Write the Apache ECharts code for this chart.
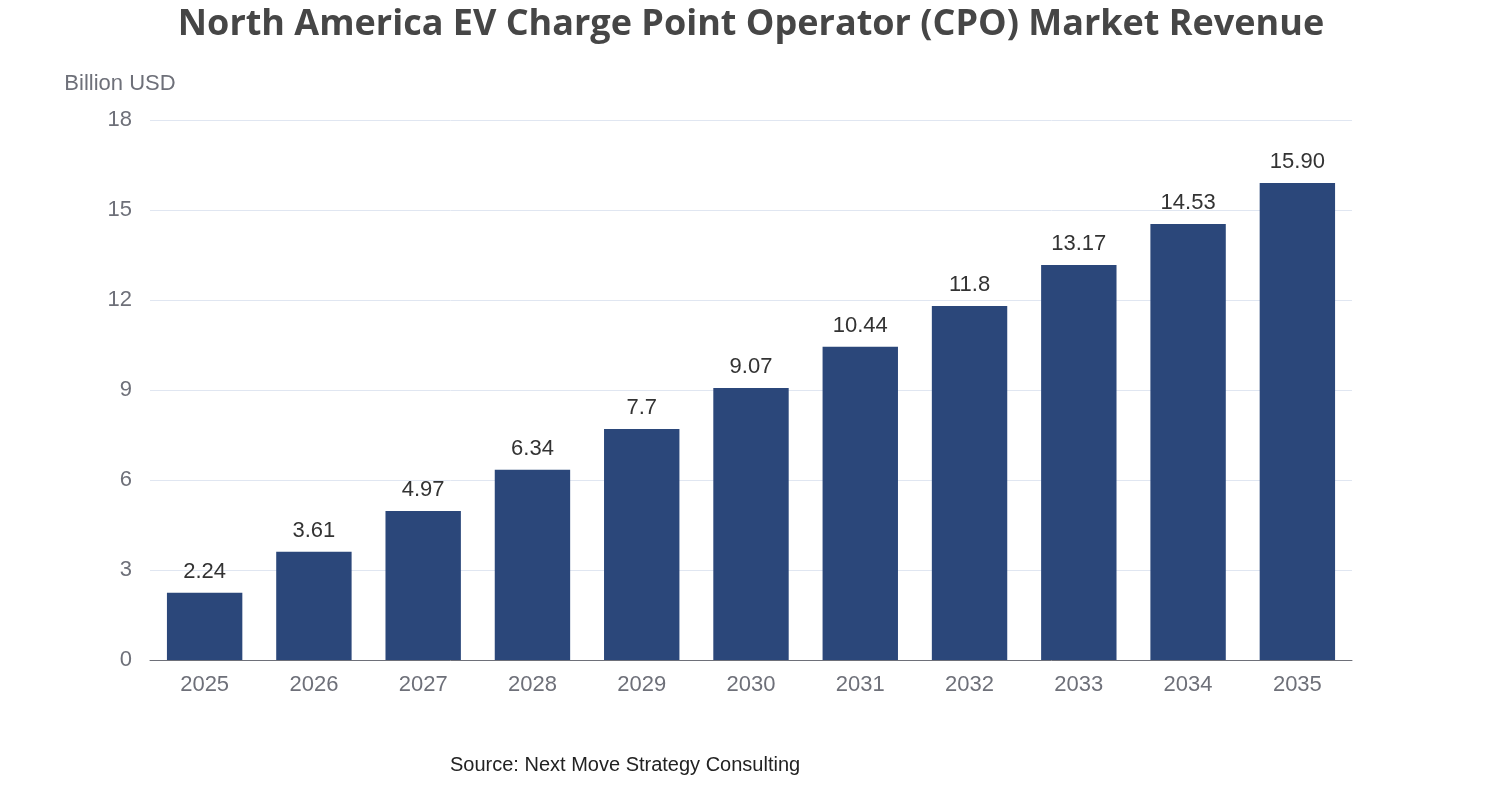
<!DOCTYPE html>
<html>
<head>
<meta charset="utf-8">
<script src="https://cdn.jsdelivr.net/npm/echarts@6/dist/echarts.min.js"></script>
<style>html,body{margin:0;padding:0;background:#fff}#main{width:1502px;height:800px}</style>
</head>
<body>
<div id="main"></div>
<script>
var years = ['2025','2026','2027','2028','2029','2030','2031','2032','2033','2034','2035'];
var revenue = [2.24, 3.61, 4.97, 6.34, 7.7, 9.07, 10.44, 11.8, 13.17, 14.53, 15.90];
var revenueLabels = ['2.24','3.61','4.97','6.34','7.7','9.07','10.44','11.8','13.17','14.53','15.90'];

var chart = echarts.init(document.getElementById('main'));
chart.setOption({
    animation: false,
    title: {
        text: 'North America EV Charge Point Operator (CPO) Market Revenue',
        left: 'center', top: 2,
        textStyle: { fontSize: 36, fontWeight: 'bold', color: '#464646', fontFamily: 'Open Sans' }
    },
    graphic: [{
        type: 'text', left: 450, top: 755,
        style: { text: 'Source: Next Move Strategy Consulting', fontSize: 20, fill: '#222', fontFamily: 'Liberation Sans' }
    }],
    grid: { left: 150, right: 150, top: 120, bottom: 140 },
    xAxis: {
        type: 'category',
        data: years,
        axisLine: { lineStyle: { color: '#6e7079' } },
        axisTick: { lineStyle: { color: '#6e7079' } },
        axisLabel: { fontSize: 22, color: '#6e7079', margin: 14 }
    },
    yAxis: {
        type: 'value', min: 0, max: 18, interval: 3,
        name: 'Billion USD',
        nameTextStyle: { fontSize: 22, color: '#6e7079', padding: [0, 0, 10, -60] },
        axisLabel: { fontSize: 22, color: '#6e7079', margin: 18 },
        splitLine: { lineStyle: { color: '#e0e6f1' } }
    },
    series: [{
        type: 'bar',
        data: revenue,
        barWidth: '69%',
        itemStyle: { color: '#2b477a' },
        label: {
            show: true, position: 'top', distance: 10,
            fontSize: 22, color: '#333',
            formatter: function (p) { return revenueLabels[p.dataIndex]; }
        }
    }]
});
</script>
</body>
</html>
